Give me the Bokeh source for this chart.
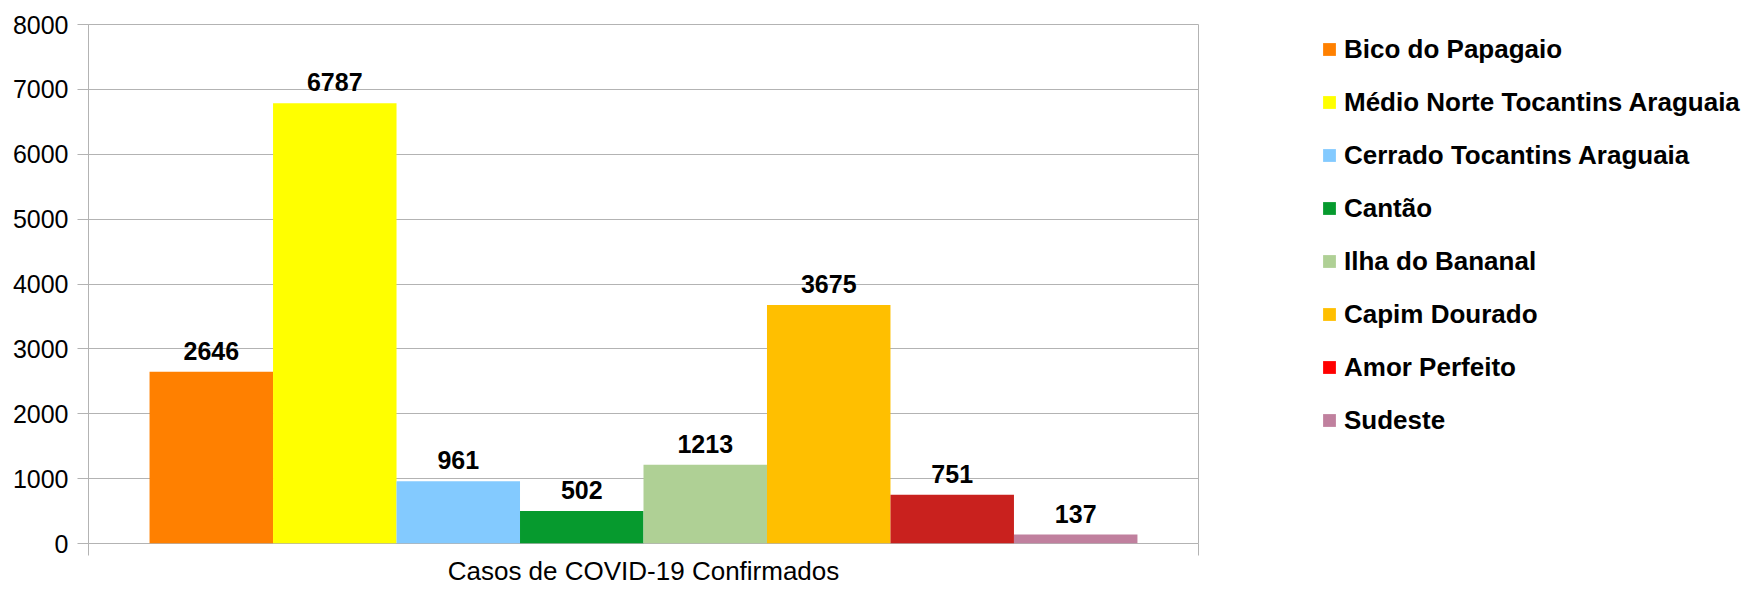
from bokeh.plotting import figure
from bokeh.layouts import row
from bokeh.models import (ColumnDataSource, Range1d, Legend, LegendItem,
                          LabelSet, FixedTicker)
from bokeh.core.properties import value
from bokeh.embed import file_html
from bokeh.resources import INLINE

# ---- data ----
category = "Casos de COVID-19 Confirmados"
regions = ["Bico do Papagaio", "Médio Norte Tocantins Araguaia", "Cerrado Tocantins Araguaia",
           "Cantão", "Ilha do Bananal", "Capim Dourado", "Amor Perfeito", "Sudeste"]
cases = [2646, 6787, 961, 502, 1213, 3675, 751, 137]
bar_colors = ["#FF8000", "#FFFF00", "#83CAFF", "#069A2E", "#AFD095", "#FFBF00", "#C9211E", "#C0809E"]
legend_colors = ["#FF8000", "#FFFF00", "#83CAFF", "#069A2E", "#AFD095", "#FFBF00", "#FF0000", "#C0809E"]
y_ticks = [0, 1000, 2000, 3000, 4000, 5000, 6000, 7000, 8000]

FONT = "Liberation Sans"
GRAY = "#b3b3b3"

n = len(regions)
group_frac = 0.89
bw = group_frac / n
xs = [0.5 + (i - (n - 1) / 2) * bw for i in range(n)]

src = ColumnDataSource(dict(x=xs, top=cases, color=bar_colors, lcolor=legend_colors,
                            label=[str(v) for v in cases], name=regions))

W_CHART = 1230
H = 589

p = figure(width=W_CHART, height=H, x_range=Range1d(0, 1),
           y_range=Range1d(0, 8000), output_backend="svg", toolbar_location=None,
           min_border_left=88, min_border_top=24, min_border_bottom=46,
           min_border_right=W_CHART - 1198)

p.vbar(x="x", top="top", width=bw, source=src, fill_color="color", line_color=None)

labels = LabelSet(x="x", y="top", text="label", source=src, y_offset=12,
                  text_align="center", text_baseline="alphabetic",
                  text_font=value(FONT), text_font_size=value("25px"),
                  text_font_style=value("bold"), text_color=value("black"))
p.add_layout(labels)

# axes / grid
p.outline_line_color = GRAY
p.xgrid.grid_line_color = None
p.ygrid.grid_line_color = GRAY
p.ygrid.ticker = FixedTicker(ticks=y_ticks)

p.yaxis.ticker = FixedTicker(ticks=y_ticks)
p.yaxis.axis_line_color = GRAY
p.yaxis.major_tick_line_color = GRAY
p.yaxis.major_tick_out = 11
p.yaxis.major_tick_in = 0
p.yaxis.minor_tick_line_color = None
p.yaxis.major_label_standoff = 9
p.yaxis.major_label_text_font = FONT
p.yaxis.major_label_text_font_size = "25px"
p.yaxis.major_label_text_color = "black"

# category axis: boundary ticks at both ends, category name as the axis label
p.xaxis.ticker = FixedTicker(ticks=[0, 1])
p.xaxis.major_label_overrides = {0: "", 1: ""}
p.xaxis.major_label_text_font_size = "0px"
p.xaxis.major_label_standoff = 0
p.xaxis.axis_line_color = None
p.xaxis.major_tick_line_color = GRAY
p.xaxis.major_tick_out = 12
p.xaxis.major_tick_in = 0
p.xaxis.minor_tick_line_color = None
p.xaxis.axis_label = category
p.xaxis.axis_label_standoff = 0
p.xaxis.axis_label_text_font = FONT
p.xaxis.axis_label_text_font_size = "26px"
p.xaxis.axis_label_text_font_style = "normal"
p.xaxis.axis_label_text_color = "black"

# ---- legend panel ----
q = figure(width=1751 - W_CHART, height=H, output_backend="svg", toolbar_location=None,
           x_axis_location=None, y_axis_location=None,
           min_border_left=0, min_border_right=0, min_border_top=0, min_border_bottom=0)
q.outline_line_color = None
q.xgrid.grid_line_color = None
q.ygrid.grid_line_color = None
proxy = q.vbar(x="x", top="top", width=0, source=src, fill_color="lcolor", line_color=None)

items = [LegendItem(label=regions[i], renderers=[proxy], index=i) for i in range(n)]
legend = Legend(items=items, location=(91, 107), padding=0, margin=0,
                glyph_width=16, glyph_height=16, label_standoff=7,
                label_height=32, spacing=21,
                label_text_font=FONT, label_text_font_size="26px",
                label_text_font_style="bold", label_text_color="black",
                border_line_color=None, background_fill_alpha=0)
q.add_layout(legend, "center")

layout = row(p, q, spacing=0)
open("out.html", "w").write(file_html(layout, INLINE))
